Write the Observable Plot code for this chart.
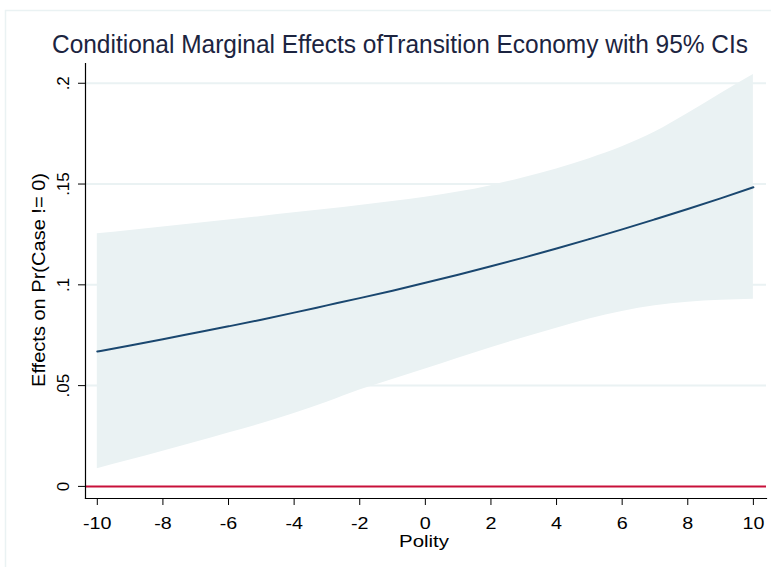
<!DOCTYPE html>
<html>
<head>
<meta charset="utf-8">
<script src="https://cdn.jsdelivr.net/npm/d3@7"></script>
<script src="https://cdn.jsdelivr.net/npm/@observablehq/plot@0.6"></script>
<style>
  html, body { margin: 0; padding: 0; background: #ffffff; }
  #chart { position: relative; width: 771px; height: 567px; overflow: hidden; }
  svg { font-family: "Liberation Sans", Arial, sans-serif; }
</style>
</head>
<body>
<div id="chart"></div>
<script>
// Data
const polity = [-10, -9, -8, -7, -6, -5, -4, -3, -2, -1, 0, 1, 2, 3, 4, 5, 6, 7, 8, 9, 10];
const effect = [0.0669, 0.0699, 0.0730, 0.0762, 0.0794, 0.0827, 0.0862, 0.0898, 0.0934, 0.0971, 0.1010, 0.1050, 0.1092, 0.1135, 0.1180, 0.1227, 0.1275, 0.1325, 0.1376, 0.1429, 0.1484];
const upper  = [0.1253, 0.1270, 0.1287, 0.1304, 0.1321, 0.1339, 0.1357, 0.1375, 0.1394, 0.1413, 0.1434, 0.1460, 0.1492, 0.1531, 0.1575, 0.1626, 0.1685, 0.1758, 0.1850, 0.1948, 0.2043];
const lower  = [0.0088, 0.0131, 0.0175, 0.0219, 0.0265, 0.0311, 0.0362, 0.0417, 0.0478, 0.0530, 0.0582, 0.0636, 0.0688, 0.0738, 0.0785, 0.0830, 0.0868, 0.0896, 0.0913, 0.0923, 0.0929];
const xTicks = [-10, -8, -6, -4, -2, 0, 2, 4, 6, 8, 10];
const yTicks = [0, 0.05, 0.1, 0.15, 0.2];
const yTickLabels = ["0", ".05", ".1", ".15", ".2"];
const titleText = "Conditional Marginal Effects ofTransition Economy with 95% CIs";
const xLabel = "Polity";
const yLabel = "Effects on Pr(Case != 0)";

const rows = polity.map((p, i) => ({polity: p, effect: effect[i], lo: lower[i], hi: upper[i]}));
const yt = yTicks.map((v, i) => ({v, label: yTickLabels[i]}));

const W = 771, H = 567;
const plot = Plot.plot({
  width: W,
  height: H,
  marginLeft: 85,
  marginRight: 5,
  marginTop: 63,
  marginBottom: 69,
  style: {background: "transparent", fontFamily: "'Liberation Sans', Arial, sans-serif"},
  x: {domain: [-10.36, 10.4], axis: null},
  y: {domain: [-0.006, 0.2098], axis: null},
  marks: [
    Plot.ruleY(yTicks.slice(1), {stroke: "#eaf2f3", strokeWidth: 2}),
    Plot.areaY(rows, {x: "polity", y1: "lo", y2: "hi", fill: "#eaf2f3", curve: "monotone-x"}),
    Plot.lineY(rows, {x: "polity", y: "effect", stroke: "#1a476f", strokeWidth: 2, curve: "monotone-x"}),
    Plot.ruleY([0], {stroke: "#c8103a", strokeWidth: 2}),
    // axis lines
    Plot.frame({anchor: "left", stroke: "#000", strokeWidth: 1.2}),
    Plot.frame({anchor: "bottom", stroke: "#000", strokeWidth: 1.2}),
    // axes
    Plot.axisX({ticks: xTicks, tickSize: 7, tickPadding: 11, tickFormat: d => String(d), fontSize: 17, fill: "#000", label: null, stroke: "#000"}),
    Plot.axisY({ticks: yTicks, tickSize: 7, tickFormat: () => "", label: null, stroke: "#000"}),
    Plot.text(yt, {y: "v", text: "label", frameAnchor: "left", dx: -22, rotate: -90, fontSize: 17, fill: "#000", textAnchor: "middle", lineAnchor: "middle"})
  ]
});

const svg = d3.select(plot);
svg.attr("width", W).attr("height", H);

// outer graph-region border
svg.insert("path", ":first-child")
  .attr("d", `M5.5,${H} V10.5 H${W}`)
  .attr("fill", "none").attr("stroke", "#eaf2f3").attr("stroke-width", 1.5);

// title
svg.append("text")
  .attr("x", 400).attr("y", 53)
  .attr("text-anchor", "middle")
  .attr("font-size", 25)
  .attr("fill", "#1c2440")
  .attr("textLength", 696).attr("lengthAdjust", "spacingAndGlyphs")
  .text(titleText);

// x axis title
svg.append("text")
  .attr("x", 424).attr("y", 547)
  .attr("text-anchor", "middle")
  .attr("font-size", 17)
  .attr("fill", "#000")
  .attr("textLength", 50).attr("lengthAdjust", "spacingAndGlyphs")
  .text(xLabel);

// y axis title
svg.append("text")
  .attr("transform", "translate(45,280) rotate(-90)")
  .attr("text-anchor", "middle")
  .attr("font-size", 18)
  .attr("fill", "#000")
  .attr("textLength", 214).attr("lengthAdjust", "spacingAndGlyphs")
  .text(yLabel);

document.getElementById("chart").appendChild(plot);

// Stata-like wide rendering of the horizontal tick labels
svg.selectAll('g[aria-label="x-axis tick label"] text').each(function() {
  const w = this.getComputedTextLength();
  if (w > 0) {
    this.setAttribute("textLength", (w * 1.16).toFixed(1));
    this.setAttribute("lengthAdjust", "spacingAndGlyphs");
  }
});
</script>
</body>
</html>
